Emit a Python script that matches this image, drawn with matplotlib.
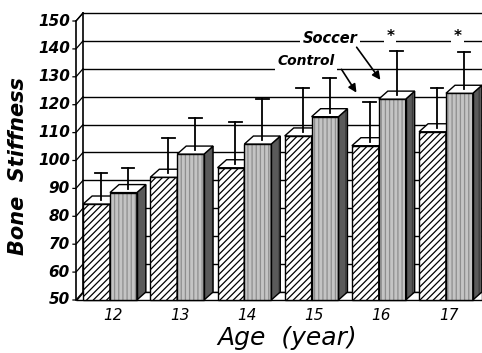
import matplotlib.pyplot as plt
import numpy as np
from matplotlib import patches

ages = ['12', '13', '14', '15', '16', '17']
control = [84.4, 94.0, 97.4, 108.8, 105.3, 110.3]
soccer = [88.5, 102.3, 105.9, 115.7, 122.0, 124.1]
control_sd = [9.7, 12.6, 15.0, 15.9, 14.4, 14.4]
soccer_sd = [7.5, 11.4, 14.7, 12.4, 15.8, 13.5]
signif = [False, False, False, False, True, True]
y_ticks = list(range(50, 151, 10))

plt.rcParams['hatch.linewidth'] = 0.9

W = 0.4          # bar width (group units)
BDX, BDY = 0.134, 2.87   # bar depth offset
WDX, WDY = 0.104, 2.87   # wall depth offset
XF = -0.506      # front of left wall
XB = XF + WDX    # back wall
XMAX = 5.536
YMIN = 50


def box(ax, x0, v, front_kw, side_kw, z):
    # each bar gets its own z so later bars cover earlier ones
    ax.add_patch(patches.Rectangle((x0, YMIN), W, v - YMIN, zorder=z, **front_kw))
    ax.add_patch(patches.Rectangle((x0, YMIN), W, v - YMIN, fill=False, ec='black', lw=1.0, zorder=z + 0.001))
    side = [(x0 + W, YMIN), (x0 + W + BDX, YMIN + BDY), (x0 + W + BDX, v + BDY), (x0 + W, v)]
    ax.add_patch(patches.Polygon(side, closed=True, zorder=z, **side_kw))
    ax.add_patch(patches.Polygon(side, closed=True, fill=False, ec='black', lw=1.0, zorder=z + 0.001))
    top = [(x0, v), (x0 + W, v), (x0 + W + BDX, v + BDY), (x0 + BDX, v + BDY)]
    ax.add_patch(patches.Polygon(top, closed=True, fc='white', ec='black', lw=1.0, zorder=z + 0.002))


def errbar(ax, x0, v, sd):
    xc = x0 + W / 2 + BDX / 2
    yb = v + BDY / 2
    ax.plot([xc, xc], [yb, yb + sd], color='black', lw=1.3, zorder=5)
    ax.plot([xc - 0.095, xc + 0.095], [yb + sd, yb + sd], color='black', lw=1.3, zorder=5)


fig = plt.figure(figsize=(4.82, 3.53), dpi=100)
ax = fig.add_axes([0, 0, 1, 1])
ax.set_xlim(-1.637, XMAX)
ax.set_ylim(31.0, 157.53)
ax.axis('off')

# back wall gridlines
for v in y_ticks:
    ax.plot([XB, XMAX], [v + WDY, v + WDY], color='black', lw=1.0, zorder=1)
    ax.plot([XF - 0.045, XF, XB], [v, v, v + WDY], color='black', lw=0.9, zorder=1)
    ax.text(XF - 0.09, v, str(v), ha='right', va='center', fontsize=11,
            fontweight='bold', fontstyle='italic')

# left wall and floor
ax.plot([XF, XF], [YMIN, 150], color='black', lw=1.2, zorder=1)
ax.plot([XB, XB], [YMIN + WDY, 150 + WDY], color='black', lw=1.2, zorder=1)
ax.plot([XF, XB], [150, 150 + WDY], color='black', lw=1.0, zorder=1)
floor = [(XF, YMIN), (XMAX, YMIN), (XMAX, YMIN + WDY), (XB, YMIN + WDY)]
ax.add_patch(patches.Polygon(floor, closed=True, fc='white', ec='black', lw=1.0, zorder=1.5))

x = np.arange(len(ages))
for i in x:
    box(ax, i - W, control[i],
        dict(fc='white', ec='black', hatch='/////', lw=0),
        dict(fc='white', ec='black', hatch='/////', lw=0), 2 + i * 0.1)
    box(ax, i, soccer[i],
        dict(fc='#c4c4c4', ec='#8e8e8e', hatch='||||', lw=0),
        dict(fc='#5a5a5a', ec='#3a3a3a', hatch='||', lw=0), 2.05 + i * 0.1)
    errbar(ax, i - W, control[i], control_sd[i])
    errbar(ax, i, soccer[i], soccer_sd[i])
    ax.text(i + 0.04, 44.6, ages[i], ha='center', va='center', fontsize=11,
            fontstyle='italic')
    if signif[i]:
        ax.text(i + 0.17, 144.6, '*', ha='center', va='center', fontsize=11,
                fontweight='bold', zorder=6,
                bbox=dict(fc='white', ec='none', pad=1.5))

# legend-like annotations on the back wall
ax.text(3.274, 143.9, 'Soccer', ha='center', va='center', fontsize=10.5,
        fontweight='bold', fontstyle='italic', zorder=6,
        bbox=dict(fc='white', ec='none', pad=2))
ax.text(2.917, 135.7, 'Control', ha='center', va='center', fontsize=10,
        fontweight='bold', fontstyle='italic', zorder=6,
        bbox=dict(fc='white', ec='none', pad=2))
ax.annotate('', xy=(4.048, 128.1), xytext=(3.646, 141.4),
            arrowprops=dict(arrowstyle='-|>', color='black', lw=1.2, mutation_scale=12), zorder=7)
ax.annotate('', xy=(3.690, 123.5), xytext=(3.423, 133.5),
            arrowprops=dict(arrowstyle='-|>', color='black', lw=1.2, mutation_scale=12), zorder=7)

ax.text(-1.369, 98.0, 'Bone  Stiffness', rotation=90, ha='center', va='center',
        fontsize=15, fontweight='bold', fontstyle='italic')
ax.text(2.634, 36.4, 'Age  (year)', ha='center', va='center', fontsize=18,
        fontstyle='italic')

fig.savefig('out.png', dpi=100)
